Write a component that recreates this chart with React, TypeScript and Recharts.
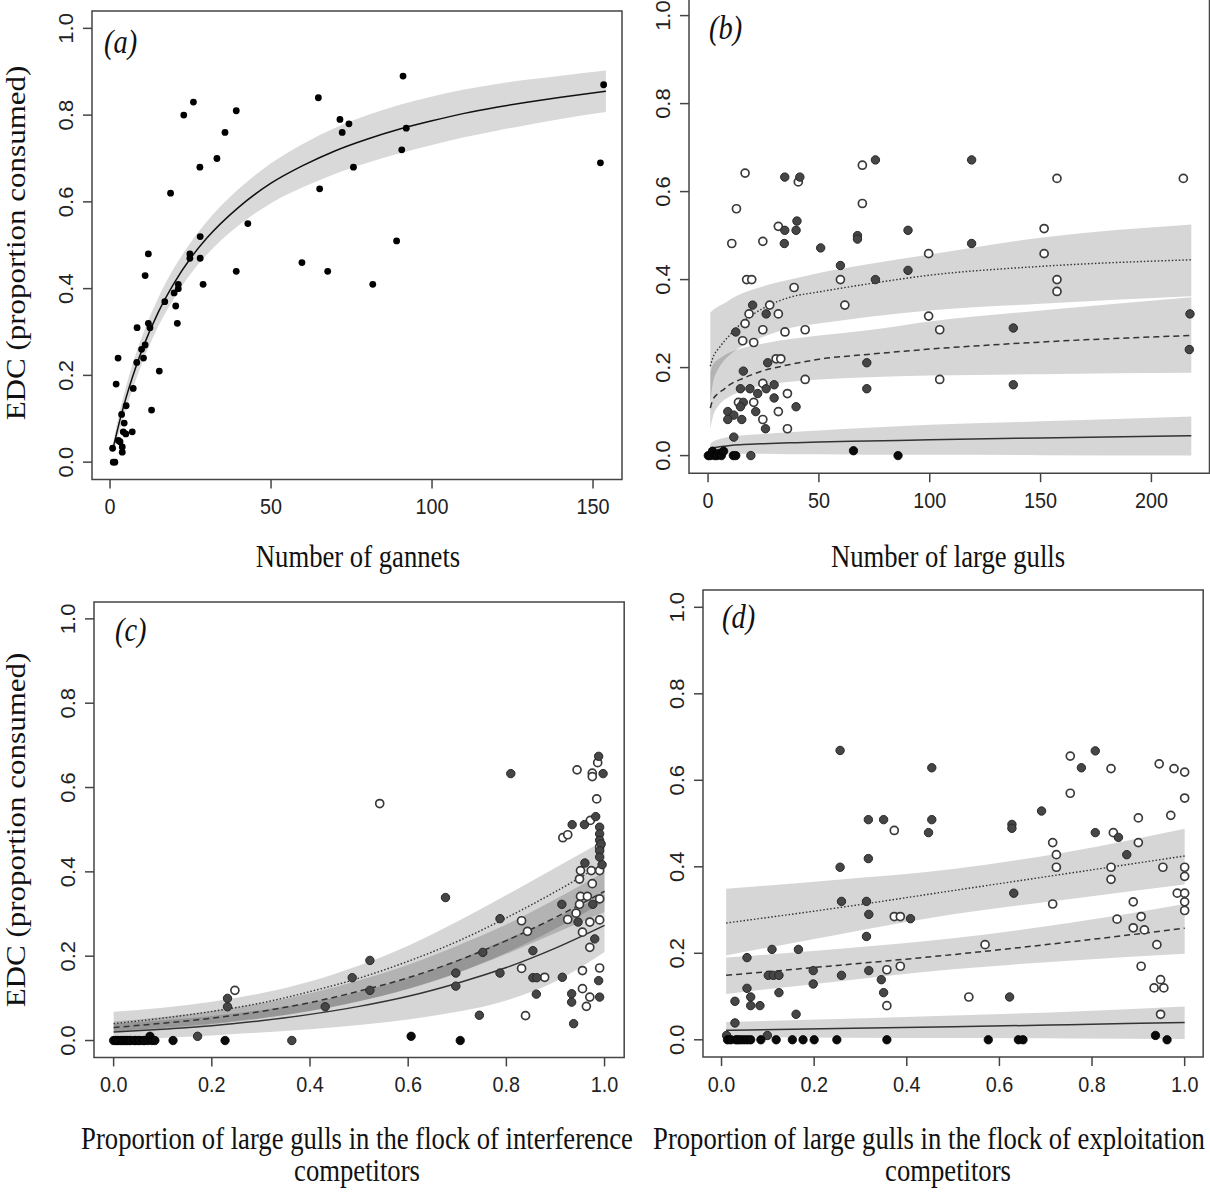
import React from 'react';
import { ComposedChart, XAxis, YAxis, Scatter, Line, Area, ReferenceArea } from 'recharts';

type P = [number, number];

// ---------- Panel (a): gannets ----------
const gannetPoints: P[] = [
  [1, 0], [1.5, 0], [0.8, 0.032], [2.6, 0.05], [3.1, 0.047], [3.8, 0.035], [3.8, 0.023], [4.1, 0.07], [4.9, 0.065],
  [6.9, 0.07], [4.4, 0.09], [3.6, 0.11], [5, 0.13], [1.9, 0.18], [2.5, 0.24], [7.2, 0.17], [12.9, 0.12], [15.3, 0.21],
  [8.3, 0.23], [10.4, 0.24], [9.8, 0.26], [10.9, 0.27], [8.4, 0.31], [11.9, 0.32], [12.4, 0.31], [20.9, 0.32],
  [10.9, 0.43], [11.9, 0.48], [17, 0.37], [19.9, 0.39], [20.4, 0.36], [21.2, 0.41], [21.2, 0.4], [18.8, 0.62],
  [22.9, 0.8], [25.9, 0.83], [24.8, 0.48], [24.8, 0.47], [28, 0.52], [28, 0.47], [28.9, 0.41], [27.9, 0.68],
  [33.2, 0.7], [35.7, 0.76], [39.2, 0.81], [39.2, 0.44], [42.8, 0.55], [59.6, 0.46], [64.7, 0.84], [65.1, 0.63],
  [67.6, 0.44], [71.4, 0.79], [72.1, 0.76], [74.2, 0.78], [75.6, 0.68], [81.6, 0.41], [91, 0.89], [92, 0.77],
  [90.6, 0.72], [89, 0.51], [153.3, 0.87], [152.3, 0.69],
];
const gannetCurveX = [1, 2, 3, 5, 7, 10, 15, 20, 25, 30, 40, 50, 60, 70, 80, 90, 100, 110, 120, 130, 140, 154];
const gannetFit = [0.034, 0.065, 0.095, 0.149, 0.197, 0.26, 0.346, 0.414, 0.47, 0.516, 0.588, 0.643, 0.684, 0.718, 0.745, 0.768, 0.787, 0.804, 0.818, 0.83, 0.841, 0.855];
const gannetLo = [0.022, 0.047, 0.073, 0.123, 0.168, 0.229, 0.313, 0.379, 0.434, 0.478, 0.546, 0.597, 0.634, 0.665, 0.69, 0.712, 0.731, 0.749, 0.764, 0.778, 0.791, 0.807];
const gannetHi = [0.046, 0.083, 0.117, 0.175, 0.226, 0.291, 0.379, 0.449, 0.506, 0.554, 0.63, 0.689, 0.734, 0.771, 0.8, 0.824, 0.843, 0.859, 0.872, 0.882, 0.891, 0.903];

// ---------- Panel (b): large gulls ----------
const gullsBlack: P[] = [
  [0.1, 0], [1, 0], [2, 0.01], [3, 0], [4, 0], [5, 0.005], [6, 0], [7, 0.01], [11.4, 0], [12.5, 0], [65.6, 0.011], [85.7, 0],
];
const gullsDark: P[] = [
  [34.6, 0.633], [41.4, 0.633], [75.5, 0.672], [118.9, 0.672], [40.1, 0.533], [34.6, 0.512], [39.7, 0.512], [34.4, 0.482],
  [50.8, 0.472], [67.4, 0.5], [67.4, 0.492], [90.2, 0.512], [118.9, 0.482], [59.7, 0.432], [90.2, 0.421], [75.5, 0.4],
  [20.1, 0.342], [26.2, 0.322], [217.4, 0.322], [12.5, 0.281], [26.9, 0.211], [71.6, 0.211], [15.9, 0.192], [29.8, 0.161],
  [14.6, 0.152], [18.9, 0.152], [26.2, 0.152], [71.6, 0.152], [22.4, 0.141], [29.8, 0.131], [15.9, 0.121], [14.6, 0.111],
  [39.7, 0.111], [8.9, 0.1], [21.5, 0.1], [11.6, 0.092], [8.9, 0.082], [15.2, 0.082], [25.9, 0.061], [11.6, 0.042],
  [19.3, 0], [137.7, 0.29], [217.1, 0.241], [137.7, 0.161],
];
const gullsOpen: P[] = [
  [16.7, 0.642], [40.7, 0.622], [69.6, 0.66], [157.4, 0.63], [214.4, 0.63], [12.8, 0.561], [69.6, 0.573], [31.7, 0.521],
  [10.7, 0.482], [24.7, 0.487], [151.6, 0.516], [99.5, 0.459], [151.6, 0.459], [17.4, 0.4], [19.7, 0.4], [59.7, 0.4],
  [157.4, 0.4], [157.4, 0.373], [38.8, 0.382], [27.8, 0.342], [61.7, 0.342], [18.5, 0.322], [31.7, 0.322], [99.5, 0.317],
  [16.7, 0.3], [24.7, 0.286], [34.7, 0.281], [43.8, 0.286], [15.6, 0.261], [20.6, 0.257], [104.5, 0.286], [30.7, 0.22],
  [32.8, 0.22], [43.8, 0.173], [104.5, 0.173], [24.7, 0.164], [35.8, 0.141], [13.7, 0.121], [20.6, 0.121], [31.7, 0.1],
  [24.7, 0.082], [35.8, 0.061],
];
const gullsCurveX = [1, 2, 5, 7, 10, 16, 25, 37, 50, 72, 100, 150, 218];
const gullsDotted = [0.203, 0.22, 0.245, 0.258, 0.275, 0.305, 0.335, 0.36, 0.372, 0.39, 0.41, 0.43, 0.445];
const gullsDashed = [0.108, 0.125, 0.143, 0.15, 0.162, 0.176, 0.193, 0.207, 0.219, 0.23, 0.242, 0.258, 0.273];
const gullsSolid = [0.015, 0.017, 0.02, 0.021, 0.023, 0.025, 0.027, 0.029, 0.031, 0.033, 0.036, 0.04, 0.045];
const gullsDottedLo = [0.12, 0.16, 0.2, 0.215, 0.23, 0.25, 0.27, 0.29, 0.3, 0.315, 0.33, 0.345, 0.362];
const gullsDottedHi = [0.325, 0.33, 0.34, 0.345, 0.355, 0.37, 0.385, 0.4, 0.415, 0.435, 0.457, 0.495, 0.525];
const gullsDashedLo = [0.06, 0.085, 0.115, 0.125, 0.135, 0.148, 0.16, 0.168, 0.173, 0.178, 0.182, 0.185, 0.188];
const gullsDashedHi = [0.19, 0.205, 0.22, 0.227, 0.235, 0.245, 0.255, 0.265, 0.273, 0.285, 0.305, 0.33, 0.36];
const gullsSolidLo = [0.005, 0.005, 0.005, 0.005, 0.005, 0.004, 0.004, 0.003, 0.003, 0.002, 0.002, 0.001, 0.0];
const gullsSolidHi = [0.027, 0.031, 0.037, 0.04, 0.043, 0.046, 0.049, 0.053, 0.057, 0.063, 0.07, 0.078, 0.089];

// ---------- Panel (c): interference competitors ----------
const interfBlack: P[] = [
  [0, 0], [0.004, 0], [0.007, 0], [0.01, 0], [0.014, 0], [0.018, 0], [0.021, 0], [0.025, 0], [0.028, 0], [0.032, 0],
  [0.035, 0], [0.042, 0], [0.045, 0], [0.05, 0], [0.053, 0], [0.06, 0], [0.063, 0], [0.07, 0], [0.074, 0.01], [0.078, 0],
  [0.084, 0], [0.121, 0], [0.227, 0], [0.606, 0.01], [0.706, 0],
];
const interfDark: P[] = [
  [0.171, 0.01], [0.363, 0], [0.232, 0.1], [0.232, 0.08], [0.431, 0.08], [0.486, 0.149], [0.522, 0.19], [0.522, 0.119],
  [0.676, 0.339], [0.697, 0.16], [0.697, 0.129], [0.745, 0.06], [0.752, 0.209], [0.787, 0.289], [0.787, 0.16], [0.809, 0.633],
  [0.988, 0.674], [0.997, 0.633], [0.982, 0.531], [0.959, 0.512], [0.934, 0.512], [0.99, 0.506], [0.99, 0.49], [0.99, 0.475],
  [0.993, 0.466], [0.99, 0.45], [0.99, 0.435], [0.995, 0.417], [0.96, 0.421], [0.913, 0.323], [0.976, 0.323], [0.946, 0.281],
  [0.98, 0.241], [0.854, 0.213], [0.854, 0.149], [0.862, 0.149], [0.914, 0.15], [0.988, 0.142], [0.861, 0.11], [0.933, 0.111],
  [0.933, 0.091], [0.99, 0.103], [0.937, 0.04],
];
const interfOpen: P[] = [
  [0.247, 0.119], [0.542, 0.562], [0.986, 0.659], [0.944, 0.642], [0.975, 0.634], [0.975, 0.626], [0.984, 0.573],
  [0.971, 0.522], [0.915, 0.481], [0.925, 0.488], [0.99, 0.459], [0.951, 0.403], [0.973, 0.403], [0.99, 0.403],
  [0.949, 0.383], [0.975, 0.372], [0.951, 0.342], [0.965, 0.342], [0.949, 0.323], [0.99, 0.336], [0.925, 0.287],
  [0.942, 0.302], [0.97, 0.281], [0.99, 0.286], [0.955, 0.257], [0.97, 0.221], [0.878, 0.15], [0.955, 0.166],
  [0.99, 0.172], [0.955, 0.123], [0.97, 0.103], [0.963, 0.081], [0.839, 0.059], [0.831, 0.284], [0.843, 0.259], [0.831, 0.171],
];
const interfCurveX = [0, 0.1, 0.2, 0.3, 0.4, 0.5, 0.6, 0.7, 0.8, 0.9, 1.0];
const interfSolid = [0.02, 0.027, 0.035, 0.047, 0.062, 0.081, 0.105, 0.136, 0.173, 0.219, 0.273];
const interfDashed = [0.031, 0.041, 0.053, 0.069, 0.09, 0.117, 0.149, 0.189, 0.237, 0.292, 0.354];
const interfDotted = [0.04, 0.053, 0.069, 0.089, 0.116, 0.148, 0.188, 0.235, 0.291, 0.353, 0.421];
const interfDottedLo = [0.022, 0.03, 0.04, 0.053, 0.07, 0.093, 0.122, 0.16, 0.208, 0.265, 0.33];
const interfDottedHi = [0.068, 0.078, 0.092, 0.112, 0.14, 0.178, 0.225, 0.282, 0.345, 0.41, 0.475];
const interfDashedLo = [0.02, 0.028, 0.038, 0.052, 0.07, 0.093, 0.123, 0.16, 0.205, 0.255, 0.305];
const interfDashedHi = [0.045, 0.056, 0.07, 0.088, 0.112, 0.143, 0.18, 0.225, 0.275, 0.335, 0.4];
const interfSolidLo = [0.0, 0.006, 0.012, 0.019, 0.027, 0.037, 0.05, 0.068, 0.095, 0.14, 0.21];
const interfSolidHi = [0.04, 0.048, 0.058, 0.072, 0.09, 0.115, 0.148, 0.19, 0.24, 0.29, 0.345];

// ---------- Panel (d): exploitation competitors ----------
const exploitBlack: P[] = [
  [0.013, 0], [0.02, 0], [0.031, 0], [0.036, 0], [0.042, 0], [0.049, 0], [0.056, 0], [0.063, 0], [0.085, 0], [0.118, 0],
  [0.153, 0], [0.176, 0], [0.2, 0], [0.249, 0], [0.357, 0], [0.576, 0], [0.641, 0], [0.651, 0], [0.962, 0], [0.937, 0.01],
];
const exploitDark: P[] = [
  [0.256, 0.669], [0.454, 0.629], [0.317, 0.509], [0.35, 0.509], [0.454, 0.509], [0.447, 0.479], [0.317, 0.419], [0.256, 0.399],
  [0.259, 0.32], [0.313, 0.32], [0.318, 0.29], [0.408, 0.28], [0.313, 0.239], [0.055, 0.19], [0.109, 0.209], [0.166, 0.209],
  [0.101, 0.149], [0.112, 0.149], [0.124, 0.149], [0.198, 0.16], [0.259, 0.149], [0.318, 0.16], [0.198, 0.129], [0.345, 0.139],
  [0.055, 0.119], [0.063, 0.099], [0.124, 0.109], [0.35, 0.109], [0.029, 0.089], [0.063, 0.079], [0.083, 0.079], [0.161, 0.059],
  [0.029, 0.039], [0.011, 0.01], [0.099, 0.01], [0.807, 0.668], [0.777, 0.629], [0.691, 0.529], [0.627, 0.498], [0.627, 0.489],
  [0.807, 0.479], [0.857, 0.468], [0.875, 0.428], [0.631, 0.339], [0.622, 0.099],
];
const exploitOpen: P[] = [
  [0.373, 0.484], [0.373, 0.285], [0.386, 0.285], [0.357, 0.162], [0.386, 0.17], [0.357, 0.079], [0.753, 0.656], [0.841, 0.627],
  [0.945, 0.638], [0.977, 0.627], [1.0, 0.619], [0.753, 0.57], [1.0, 0.559], [0.9, 0.513], [0.97, 0.519], [0.846, 0.479],
  [0.715, 0.456], [0.9, 0.456], [0.723, 0.428], [0.723, 0.399], [0.841, 0.399], [0.953, 0.399], [1.0, 0.399], [0.841, 0.371],
  [1.0, 0.378], [0.715, 0.314], [0.984, 0.339], [1.0, 0.339], [0.889, 0.319], [1.0, 0.319], [1.0, 0.299], [0.906, 0.285],
  [0.854, 0.279], [0.889, 0.259], [0.913, 0.254], [0.94, 0.22], [0.569, 0.22], [0.906, 0.17], [0.948, 0.139], [0.934, 0.12],
  [0.955, 0.12], [0.534, 0.099], [0.948, 0.059],
];
const exploitCurveX = [0.01, 0.25, 0.5, 0.75, 1.0];
const exploitDotted = [0.27, 0.305, 0.345, 0.385, 0.425];
const exploitDashed = [0.149, 0.172, 0.197, 0.226, 0.258];
const exploitSolid = [0.022, 0.026, 0.03, 0.035, 0.04];
const exploitDottedLo = [0.195, 0.243, 0.29, 0.325, 0.359];
const exploitDottedHi = [0.349, 0.37, 0.395, 0.435, 0.488];
const exploitDashedLo = [0.106, 0.135, 0.163, 0.183, 0.199];
const exploitDashedHi = [0.19, 0.21, 0.235, 0.27, 0.314];
const exploitSolidLo = [0.006, 0.005, 0.004, 0.003, 0.002];
const exploitSolidHi = [0.041, 0.048, 0.056, 0.065, 0.077];

// ---------- Ticks & labels ----------
const yTicks = [0, 0.2, 0.4, 0.6, 0.8, 1.0];
const gannetTicks = [0, 50, 100, 150];
const gullTicks = [0, 50, 100, 150, 200];
const propTicks = [0, 0.2, 0.4, 0.6, 0.8, 1.0];
const yTitle = 'EDC (proportion consumed)';

const SQ = 0.86;
const TSQ = 0.9;
const SANS = '"Liberation Sans", Arial, sans-serif';
const SERIF = '"Liberation Serif", "Times New Roman", serif';

const toPts = (a: P[]) => a.map(([x, y]) => ({ x, y }));

const shapes: Record<string, (p: any) => React.ReactElement> = {
  gannet: (p) => <circle cx={p.cx} cy={p.cy} r={3.4} fill="#000" />,
  black: (p) => <circle cx={p.cx} cy={p.cy} r={4.2} fill="#0a0a0a" stroke="#000" strokeWidth={0.8} />,
  dark: (p) => <circle cx={p.cx} cy={p.cy} r={4.2} fill="#464646" stroke="#262626" strokeWidth={1} />,
  open: (p) => <circle cx={p.cx} cy={p.cy} r={4} fill="#fff" stroke="#3a3a3a" strokeWidth={1.7} />,
};

type Box = { L: number; R: number; T: number; B: number };
type SeriesDef = { pts: P[]; kind: string };
type CurveDef = { key: string; dash?: string; color: string; width: number };
type BandDef = { key: string; fill: string; opacity: number };

function Panel(props: {
  box: Box; xDomain: [number, number]; yDomain: [number, number]; xTicks: number[]; xFmt: (v: number) => string;
  rows: any[]; bands: BandDef[]; curves: CurveDef[]; series: SeriesDef[];
}) {
  const { box, xDomain, yDomain, xTicks, xFmt, rows, bands, curves, series } = props;
  const plotW = box.R - box.L;
  const plotH = box.B - box.T;
  const W = plotW + 80;
  const H = plotH + 60;
  const plotBottom = 10 + plotH;
  const XTick = (p: any) => (
    <text transform={`translate(${p.x},${plotBottom + 27}) scale(${TSQ},1)`} textAnchor="middle" dominantBaseline="central"
      fontFamily={SANS} fontSize={22} fill="#222">{xFmt(p.payload.value)}</text>
  );
  const YTick = (p: any) => (
    <text transform={`translate(${70 - 26},${p.y}) rotate(-90) scale(1,${TSQ})`} textAnchor="middle" dominantBaseline="central"
      fontFamily={SANS} fontSize={22} fill="#222">{Number(p.payload.value).toFixed(1)}</text>
  );
  return (
    <div style={{ position: 'absolute', left: box.L - 70, top: box.T - 10, width: W, height: H }}>
      <ComposedChart width={W} height={H} data={rows} margin={{ top: 10, right: 10, bottom: 0, left: 0 }}>
        <XAxis type="number" dataKey="x" domain={xDomain} ticks={xTicks} interval={0} allowDataOverflow height={50}
          axisLine={false} tickSize={9} tickLine={{ stroke: '#444', strokeWidth: 1.5 }} tick={XTick} />
        <YAxis type="number" dataKey="y" domain={yDomain} ticks={yTicks} interval={0} allowDataOverflow width={70}
          axisLine={false} tickSize={9} tickLine={{ stroke: '#444', strokeWidth: 1.5 }} tick={YTick} />
        {bands.map((b) => (
          <Area key={b.key} dataKey={b.key} type="monotone" stroke="none" fill={b.fill} fillOpacity={b.opacity}
            isAnimationActive={false} dot={false} activeDot={false} />
        ))}
        {curves.map((c) => (
          <Line key={c.key} dataKey={c.key} type="monotone" stroke={c.color} strokeWidth={c.width} strokeDasharray={c.dash}
            dot={false} activeDot={false} isAnimationActive={false} />
        ))}
        {series.map((s, i) => (
          <Scatter key={i} data={toPts(s.pts)} shape={shapes[s.kind]} isAnimationActive={false} />
        ))}
        <ReferenceArea x1={xDomain[0]} x2={xDomain[1]} y1={yDomain[0]} y2={yDomain[1]} fill="none" fillOpacity={0}
          stroke="#444" strokeWidth={1.5} ifOverflow="visible" />
      </ComposedChart>
    </div>
  );
}

const rowsA = gannetCurveX.map((x, i) => ({ x, fit: gannetFit[i], band: [gannetLo[i], gannetHi[i]] }));
const rowsB = gullsCurveX.map((x, i) => ({
  x, dotted: gullsDotted[i], dashed: gullsDashed[i], solid: gullsSolid[i],
  bDotted: [gullsDottedLo[i], gullsDottedHi[i]], bDashed: [gullsDashedLo[i], gullsDashedHi[i]], bSolid: [gullsSolidLo[i], gullsSolidHi[i]],
}));
const rowsC = interfCurveX.map((x, i) => ({
  x, dotted: interfDotted[i], dashed: interfDashed[i], solid: interfSolid[i],
  bDotted: [interfDottedLo[i], interfDottedHi[i]], bDashed: [interfDashedLo[i], interfDashedHi[i]], bSolid: [interfSolidLo[i], interfSolidHi[i]],
}));
const rowsD = exploitCurveX.map((x, i) => ({
  x, dotted: exploitDotted[i], dashed: exploitDashed[i], solid: exploitSolid[i],
  bDotted: [exploitDottedLo[i], exploitDottedHi[i]], bDashed: [exploitDashedLo[i], exploitDashedHi[i]], bSolid: [exploitSolidLo[i], exploitSolidHi[i]],
}));

const greyBands: BandDef[] = [
  { key: 'bDotted', fill: '#000', opacity: 0.16 },
  { key: 'bDashed', fill: '#000', opacity: 0.16 },
  { key: 'bSolid', fill: '#000', opacity: 0.16 },
];
const threeCurves: CurveDef[] = [
  { key: 'dotted', dash: '1.5 2', color: '#333', width: 1.4 },
  { key: 'dashed', dash: '6 4', color: '#333', width: 1.5 },
  { key: 'solid', color: '#333', width: 1.5 },
];

function Txt(p: { x: number; y: number; text: string; size?: number; rotate?: boolean; italic?: boolean; anchor?: 'left' | 'center' }) {
  const size = p.size ?? 31;
  const anchorLeft = p.anchor === 'left';
  const transform = p.rotate
    ? `translate(-50%,-50%) rotate(-90deg) scaleY(${SQ})`
    : anchorLeft ? `translate(0,-50%) scaleX(${SQ})` : `translate(-50%,-50%) scaleX(${SQ})`;
  return (
    <div style={{
      position: 'absolute', left: p.x, top: p.y, transform, transformOrigin: anchorLeft ? 'left center' : 'center center',
      fontFamily: SERIF, fontSize: size, lineHeight: 1, whiteSpace: 'nowrap', color: '#111',
      fontStyle: p.italic ? 'italic' : 'normal',
    }}>{p.text}</div>
  );
}

export default function App() {
  const intFmt = (v: number) => String(v);
  const decFmt = (v: number) => v.toFixed(1);
  return (
    <div style={{ position: 'absolute', left: 0, top: 0, width: 1210, height: 1193, overflow: 'hidden', background: '#fff' }}>
      <Panel box={{ L: 92, R: 622, T: 10.5, B: 479 }} xDomain={[-5.6, 159.0]} yDomain={[-0.04, 1.04]} xTicks={gannetTicks}
        xFmt={intFmt} rows={rowsA} bands={[{ key: 'band', fill: '#d9d9d9', opacity: 1 }]}
        curves={[{ key: 'fit', color: '#111', width: 1.5 }]} series={[{ pts: gannetPoints, kind: 'gannet' }]} />
      <Panel box={{ L: 689, R: 1209.5, T: -1.6, B: 473.6 }} xDomain={[-8.6, 226.2]} yDomain={[-0.04, 1.04]} xTicks={gullTicks}
        xFmt={intFmt} rows={rowsB} bands={greyBands} curves={threeCurves}
        series={[{ pts: gullsOpen, kind: 'open' }, { pts: gullsDark, kind: 'dark' }, { pts: gullsBlack, kind: 'black' }]} />
      <Panel box={{ L: 94.4, R: 624.6, T: 601.5, B: 1056.9 }} xDomain={[-0.04, 1.04]} yDomain={[-0.04, 1.04]} xTicks={propTicks}
        xFmt={decFmt} rows={rowsC} bands={greyBands} curves={threeCurves}
        series={[{ pts: interfOpen, kind: 'open' }, { pts: interfDark, kind: 'dark' }, { pts: interfBlack, kind: 'black' }]} />
      <Panel box={{ L: 702.5, R: 1202.7, T: 589.5, B: 1056.6 }} xDomain={[-0.04, 1.04]} yDomain={[-0.04, 1.04]} xTicks={propTicks}
        xFmt={decFmt} rows={rowsD} bands={greyBands} curves={threeCurves}
        series={[{ pts: exploitOpen, kind: 'open' }, { pts: exploitDark, kind: 'dark' }, { pts: exploitBlack, kind: 'black' }]} />

      <Txt x={16} y={243} text={yTitle} rotate />
      <Txt x={16} y={830} text={yTitle} rotate />
      <Txt x={358} y={556} text="Number of gannets" />
      <Txt x={948} y={556} text="Number of large gulls" />
      <Txt x={357} y={1138} text="Proportion of large gulls in the flock of interference" />
      <Txt x={357} y={1170} text="competitors" />
      <Txt x={929} y={1138} text="Proportion of large gulls in the flock of exploitation" />
      <Txt x={948} y={1170} text="competitors" />

      <Txt x={104} y={42} text="(a)" italic anchor="left" size={33} />
      <Txt x={709} y={28} text="(b)" italic anchor="left" size={33} />
      <Txt x={115} y={630} text="(c)" italic anchor="left" size={33} />
      <Txt x={722} y={617} text="(d)" italic anchor="left" size={33} />
    </div>
  );
}
